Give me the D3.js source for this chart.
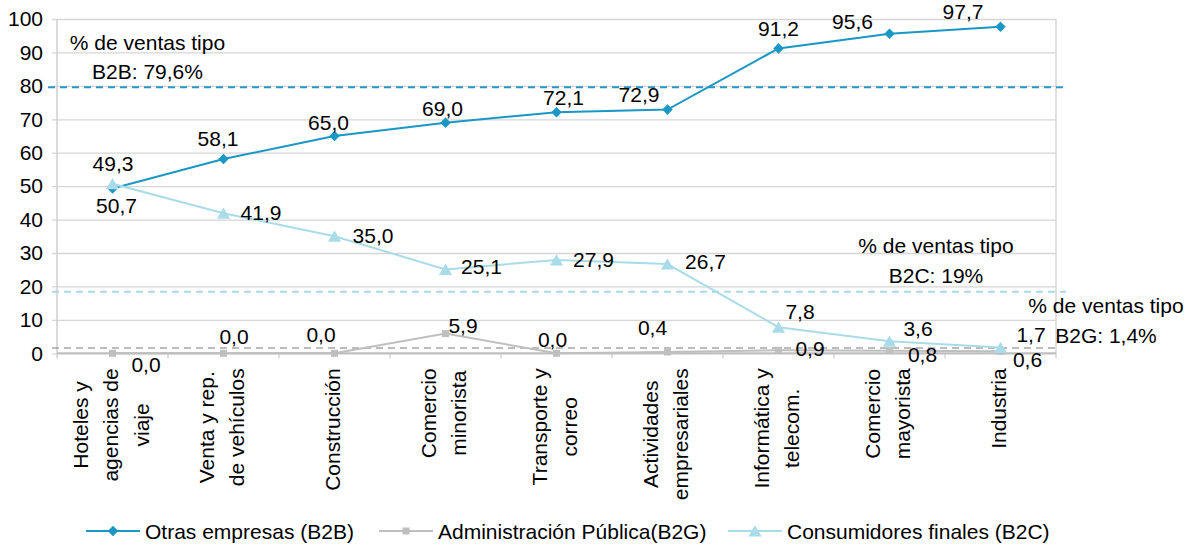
<!DOCTYPE html>
<html>
<head>
<meta charset="utf-8">
<script src="https://cdn.jsdelivr.net/npm/d3@7"></script>
<style>
  html, body { margin: 0; padding: 0; background: #ffffff; }
  svg { display: block; font-family: "Liberation Sans", Arial, sans-serif; }
</style>
</head>
<body>
<svg id="chart" width="1193" height="547"></svg>
<script>
// ---------------- DATA ----------------
const categories = [
  "Hoteles y\nagencias de\nviaje",
  "Venta y rep.\nde vehículos",
  "Construcción",
  "Comercio\nminorista",
  "Transporte y\ncorreo",
  "Actividades\nempresariales",
  "Informática y\ntelecom.",
  "Comercio\nmayorista",
  "Industria"
];
const seriesNames = ["Otras empresas (B2B)", "Administración Pública(B2G)", "Consumidores finales (B2C)"];
const b2bValues = [49.3, 58.1, 65.0, 69.0, 72.1, 72.9, 91.2, 95.6, 97.7];
const b2gValues = [0.0, 0.0, 0.0, 5.9, 0.0, 0.4, 0.9, 0.8, 0.6];
const b2cValues = [50.7, 41.9, 35.0, 25.1, 27.9, 26.7, 7.8, 3.6, 1.7];
const yTicks = [0, 10, 20, 30, 40, 50, 60, 70, 80, 90, 100];
// average reference lines (value where drawn) and their annotation text
const refValues = [79.6, 18.4, 1.6];
const refLabels = [["% de ventas tipo", "B2B: 79,6%"], ["% de ventas tipo", "B2C: 19%"], ["% de ventas tipo", "B2G: 1,4%"]];

// ---------------- LAYOUT (label nudges, px) ----------------
const b2bLabelOffsets = [[0.5,-17],[-5.5,-13],[-6,-6],[-3,-6.5],[7,-7],[-28.5,-8],[0,-12],[-37,-4.5],[-37.5,-7.5]];
const b2cLabelOffsets = [[4,29],[37.5,7],[38.5,7],[36,4.5],[37,7],[38,5],[21.5,-8],[28.5,-5],[30.5,-5.5]];
const b2gLabelOffsets = [[33.5,19],[10.5,-9],[-13.5,-11],[17.5,-0.5],[-4,-6],[-15,-17],[31.5,6],[33,11.5],[27,16]];

const W = 1193, H = 547;
const plot = { left: 57, right: 1056, top: 19, bottom: 353.3 };
const FONT = 21;
const colB2B = "#1a97c4", colB2G = "#bfbfbf", colB2C = "#a9dce8";
const colRefB2B = "#2a98c4", colRefB2C = "#a9dce8", colRefB2G = "#a6a6a6";

const svg = d3.select("#chart");
svg.append("rect").attr("width", W).attr("height", H).attr("fill", "#fff");

const x = d3.scaleBand().domain(categories).range([plot.left, plot.right]).padding(0);
const y = d3.scaleLinear().domain([0, 100]).range([plot.bottom, plot.top]);
const cx = (i) => x(categories[i]) + x.bandwidth() / 2;
const fmt = (v) => d3.format(".1f")(v).replace(".", ",");

// gridlines + y ticks via axis
const yGrid = d3.axisLeft(y).tickValues(yTicks).tickSize(-(plot.right - plot.left)).tickFormat("");
svg.append("g").attr("transform", `translate(${plot.left},0)`).call(yGrid)
  .call(g => g.select(".domain").remove())
  .call(g => g.selectAll("line").attr("stroke", "#d6d6d6").attr("stroke-width", 1.3).attr("x1", -5));

const yAxis = d3.axisLeft(y).tickValues(yTicks).tickSize(0).tickPadding(14).tickFormat(d3.format("d"));
svg.append("g").attr("transform", `translate(${plot.left},0)`).call(yAxis)
  .call(g => g.select(".domain").remove())
  .call(g => g.selectAll("text").attr("font-size", FONT).attr("fill", "#000")
     .attr("font-family", "Liberation Sans, Arial, sans-serif"));

// left axis, right border, x ticks
svg.append("line").attr("x1", plot.left).attr("x2", plot.left).attr("y1", plot.top).attr("y2", plot.bottom + 5)
  .attr("stroke", "#cfcfcf").attr("stroke-width", 1.5);
svg.append("line").attr("x1", plot.right).attr("x2", plot.right).attr("y1", plot.top).attr("y2", plot.bottom + 5)
  .attr("stroke", "#d6d6d6").attr("stroke-width", 1.5);
svg.append("g").selectAll("line").data(categories.slice(1)).join("line")
  .attr("x1", d => x(d)).attr("x2", d => x(d))
  .attr("y1", plot.bottom).attr("y2", plot.bottom + 5)
  .attr("stroke", "#cfcfcf").attr("stroke-width", 1.3);
svg.append("line").attr("x1", plot.left).attr("x2", plot.right).attr("y1", y(0)).attr("y2", y(0))
  .attr("stroke", "#bfbfbf").attr("stroke-width", 2);

// reference lines
const refSpec = [
  { v: refValues[0], c: colRefB2B, x1: plot.left - 9, x2: plot.right + 10, w: 2 },
  { v: refValues[1], c: colRefB2C, x1: plot.left - 5, x2: plot.right + 10, w: 2 },
  { v: refValues[2], c: colRefB2G, x1: plot.left - 5, x2: plot.right + 1, w: 1.6 }
];
svg.append("g").selectAll("line").data(refSpec).join("line")
  .attr("x1", d => d.x1).attr("x2", d => d.x2)
  .attr("y1", d => y(d.v)).attr("y2", d => y(d.v))
  .attr("stroke", d => d.c).attr("stroke-width", d => d.w).attr("stroke-dasharray", "7,5");

// reference annotations
const annPos = [
  { x: 147.5, dy: -8 },
  { x: 936, dy: -9 },
  { x: 1106, dy: -5 }
];
annPos.forEach((a, k) => {
  const base = y(refValues[k]) + a.dy;
  const t = svg.append("text").attr("text-anchor", "middle").attr("font-size", FONT).attr("fill", "#000");
  t.append("tspan").attr("x", a.x).attr("y", base - 29.5).text(refLabels[k][0]);
  t.append("tspan").attr("x", a.x).attr("y", base).text(refLabels[k][1]);
});

// category labels (rotated)
categories.forEach((c, i) => {
  const lines = c.split("\n");
  const n = lines.length;
  const g = svg.append("g").attr("transform", `translate(${cx(i)},${plot.bottom + 15}) rotate(-90)`);
  const texts = lines.map((ln, k) => g.append("text").attr("font-size", FONT).attr("fill", "#000")
      .attr("text-anchor", "middle")
      .attr("y", (k - (n - 1) / 2) * 30.5 - 2 + 7.5).text(ln));
  const maxW = d3.max(texts, t => t.node().getComputedTextLength());
  texts.forEach(t => t.attr("x", -maxW / 2));
});

// series
const line = d3.line().x((d, i) => cx(i)).y(d => y(d));
const diamond = "M0,-5.3L5.2,0L0,5.3L-5.2,0Z";
const square = "M-3.5,-3.5H3.5V3.5H-3.5Z";
const triangle = "M0,-5.8L6.6,5.5L-6.6,5.5Z";

function drawSeries(vals, color, marker, offsets) {
  const g = svg.append("g");
  g.append("path").datum(vals).attr("d", line).attr("fill", "none").attr("stroke", color).attr("stroke-width", 2);
  g.selectAll("path.m").data(vals).join("path").attr("class", "m")
    .attr("d", marker).attr("transform", (d, i) => `translate(${cx(i)},${y(d)})`).attr("fill", color);
  return g;
}
function drawLabels(vals, offsets) {
  svg.append("g").selectAll("text").data(vals).join("text")
    .attr("x", (d, i) => cx(i) + offsets[i][0]).attr("y", (d, i) => y(d) + offsets[i][1])
    .attr("text-anchor", "middle").attr("font-size", FONT).attr("fill", "#000").text(d => fmt(d));
}
drawSeries(b2bValues, colB2B, diamond);
drawSeries(b2gValues, colB2G, square);
drawSeries(b2cValues, colB2C, triangle);
drawLabels(b2bValues, b2bLabelOffsets);
drawLabels(b2gValues, b2gLabelOffsets);
drawLabels(b2cValues, b2cLabelOffsets);

// legend
const legY = 531;
const legendItems = [
  { name: seriesNames[0], color: colB2B, marker: diamond, x: 86 },
  { name: seriesNames[1], color: colB2G, marker: square, x: 379 },
  { name: seriesNames[2], color: colB2C, marker: triangle, x: 728 }
];
const lg = svg.append("g");
legendItems.forEach(it => {
  lg.append("line").attr("x1", it.x).attr("x2", it.x + 54).attr("y1", legY).attr("y2", legY)
    .attr("stroke", it.color).attr("stroke-width", 2);
  lg.append("path").attr("d", it.marker).attr("transform", `translate(${it.x + 27},${legY})`).attr("fill", it.color);
  lg.append("text").attr("x", it.x + 59).attr("y", legY + 7.5).attr("font-size", FONT).attr("fill", "#000").text(it.name);
});
</script>
</body>
</html>
